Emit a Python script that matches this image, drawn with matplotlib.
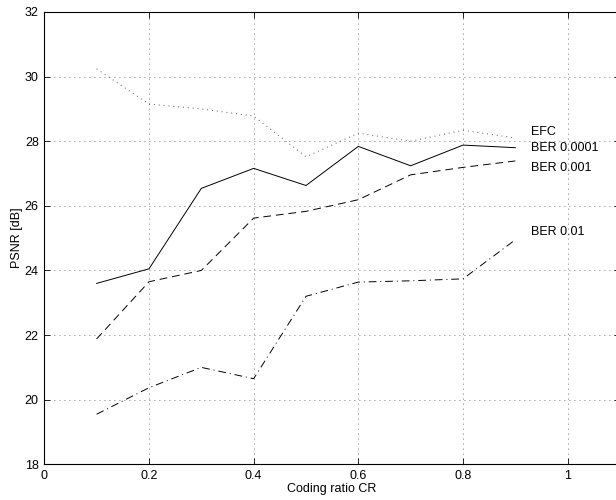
import matplotlib
matplotlib.use("Agg")
import matplotlib.pyplot as plt

# coding ratio and PSNR [dB] per channel condition
cr = [0.1, 0.2, 0.3, 0.4, 0.5, 0.6, 0.7, 0.8, 0.9]
efc = [30.24, 29.15, 29.00, 28.78, 27.52, 28.25, 28.00, 28.34, 28.10]
ber_1e4 = [23.60, 24.05, 26.54, 27.16, 26.63, 27.84, 27.24, 27.88, 27.80]
ber_1e3 = [21.88, 23.65, 24.00, 25.62, 25.83, 26.19, 26.96, 27.19, 27.39]
ber_1e2 = [19.55, 20.37, 21.00, 20.65, 23.20, 23.64, 23.68, 23.74, 24.95]

names = ["EFC", "BER 0.0001", "BER 0.001", "BER 0.01"]
label_y = [28.29, 27.80, 27.18, 25.18]

plt.rcParams.update({"font.family": ["Liberation Sans", "DejaVu Sans"], "font.size": 9})
fig = plt.figure(figsize=(6.16, 5.0), dpi=100)
ax = fig.add_axes([0.0719, 0.0714, 0.9346, 0.9046])

ax.plot(cr, efc, color="0.35", lw=0.7, ls=(0, (1, 4)))
ax.plot(cr, ber_1e4, color="k", lw=0.7, ls="-")
ax.plot(cr, ber_1e3, color="k", lw=0.7, ls=(0, (8, 5)))
ax.plot(cr, ber_1e2, color="k", lw=0.7, ls=(0, (8, 4, 1, 4)))

for name, y in zip(names, label_y):
    ax.text(0.93, y, name, fontsize=9, va="center", ha="left")

ax.set_xlim(0, 1.1)
ax.set_ylim(18, 32)
ax.set_xticks([0, 0.2, 0.4, 0.6, 0.8, 1])
ax.set_xticklabels(["0", "0.2", "0.4", "0.6", "0.8", "1"])
ax.set_yticks(range(18, 33, 2))
ax.grid(True, color="0.3", ls=(0, (1, 5)), lw=0.6)
ax.tick_params(direction="in", length=4, width=0.6, top=True, right=True, pad=4)
for s in ax.spines.values():
    s.set_linewidth(0.8)

ax.set_xlabel("Coding ratio CR", labelpad=1)
ax.set_ylabel("PSNR [dB]", labelpad=1)

fig.savefig("out.png", dpi=100)
